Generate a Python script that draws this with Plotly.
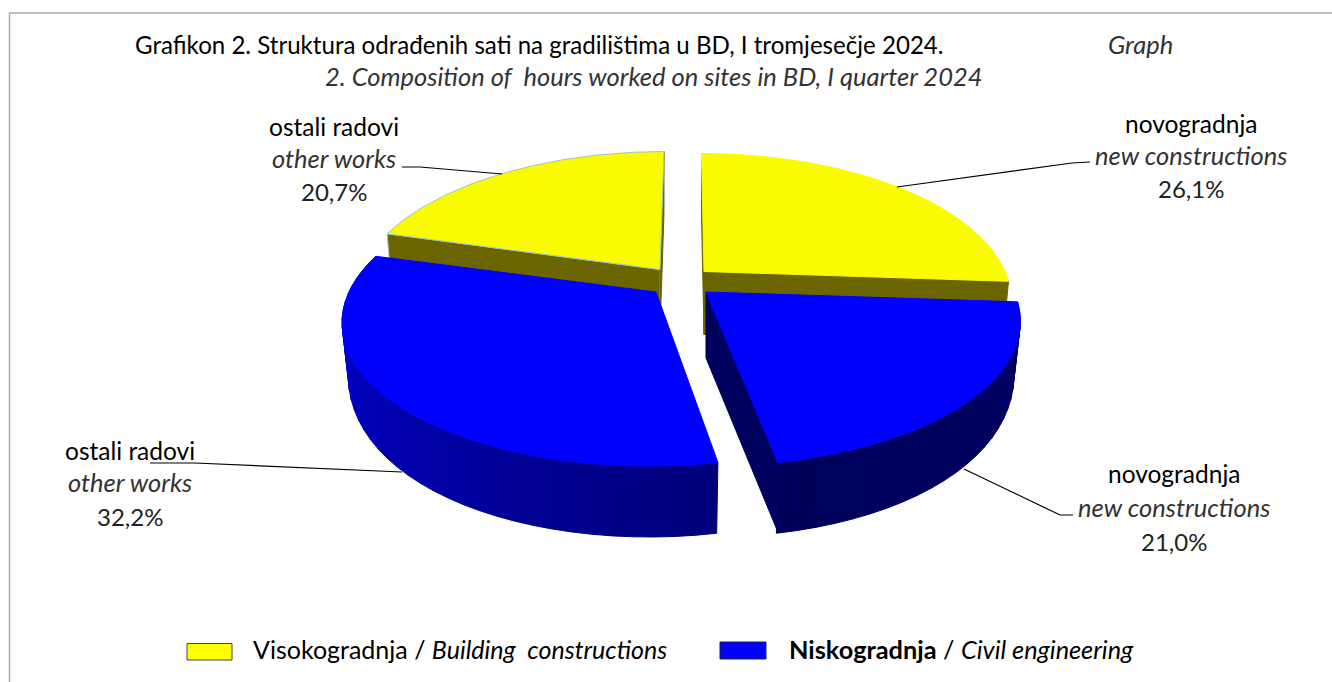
import numpy as np
import plotly.graph_objects as go

# ---- data ----
slice_names = ["novogradnja", "novogradnja", "ostali radovi", "ostali radovi"]
slice_names_en = ["new constructions", "new constructions", "other works", "other works"]
slice_values = [26.1, 21.0, 32.2, 20.7]
slice_labels = ["26,1%", "21,0%", "32,2%", "20,7%"]
title_main = "Grafikon 2. Struktura odrađenih sati na gradilištima u BD, I tromjesečje 2024."
title_tag = "Graph"
title_sub = "2. Composition of\u00a0\u00a0hours worked on sites in BD, I quarter 2024"
legend_a = "Visokogradnja / <i>Building\u00a0\u00a0constructions</i>"
legend_b = "<b>Niskogradnja</b> / <i>Civil engineering</i>"

# ---- styling / projection ----
FONT = "Lato"
YEL, YEL_DARK = "#fbfb00", "#6b6500"
BLUE, BLUE_DARK = "#0000ff", "#00005e"
PER, RY = 0.192, 140.6
# centre x, centre y, radius, lean for each slice
GEOM = [(704, 271.5, 301, 3.0), (706, 292, 308, 2.5), (656, 292, 307, -5.5), (660, 269.5, 299, -4.8)]

cum = np.cumsum([0] + slice_values) / sum(slice_values) * 360.0


def project(t_deg, g):
    cx, cy, R, L = g
    t = np.radians(t_deg)
    u, v = np.sin(t), -np.cos(t)
    s = 1 / (1 - PER * v)
    return cx + R * u * s + L * v * s, cy + RY * v * s, v


def drop(x, y, v, g):
    d = 45 + 40 * v - 14 * v * v
    return g[0] + (np.asarray(x) - g[0]) * 0.98, y + d


fig = go.Figure()


def poly(xs, ys, fill, line=None, w=1):
    fig.add_trace(go.Scatter(
        x=list(xs), y=list(ys), mode="lines", fill="toself", fillcolor=fill,
        line=dict(color=line or fill, width=w), hoverinfo="skip", showlegend=False))


def top(i, fill, line=None):
    g = GEOM[i]
    x, y, _ = project(np.linspace(cum[i], cum[i + 1], 60), g)
    poly(np.r_[g[0], x, g[0]], np.r_[g[1], y, g[1]], fill, line)


def cut(i, t, fill, depth, line=None):
    g = GEOM[i]
    x, y, _ = project(t, g)
    xb = g[0] + (x - g[0]) * 0.98
    poly([g[0], x, xb, g[0], g[0]], [g[1], y, y + depth, g[1] + depth, g[1]], fill, line)


def wall(i, c_start, c_end, n):
    g = GEOM[i]
    edges = np.linspace(cum[i], cum[i + 1], n + 1)
    for k in range(n):
        ts = np.linspace(edges[k], edges[k + 1], 6)
        x, y, v = project(ts, g)
        xb, yb = drop(x, y, v, g)
        f = k / max(n - 1, 1)
        col = [round(a + (b - a) * f) for a, b in zip(c_start, c_end)]
        c = f"rgb({col[0]},{col[1]},{col[2]})"
        poly(np.r_[x, xb[::-1], x[0]], np.r_[y, yb[::-1], y[0]], c)


# back slices first, so the front ones hide them
PALE = "#9cc7c4"
cut(3, cum[3], YEL_DARK, 63, PALE)
cut(3, cum[4], YEL_DARK, 63)
top(3, YEL, PALE)
cut(0, cum[0], YEL_DARK, 63)
cut(0, cum[1], YEL_DARK, 63)
top(0, YEL)
# front right
wall(1, (0, 0, 100), (0, 0, 92), 24)
cut(1, cum[2], BLUE_DARK, 66)
top(1, BLUE)
# front left
wall(2, (0, 0, 124), (0, 0, 222), 36)
top(2, BLUE)

grey = "#a9a9a9"
shapes = [
    dict(type="path", path="M 1332 13 L 9.5 13 L 9.5 682", line=dict(color=grey, width=1.5)),
    dict(type="rect", x0=187, y0=643.5, x1=232, y1=660, fillcolor="#ffff00", line=dict(color="#444", width=1)),
    dict(type="rect", x0=720, y0=642, x1=766, y1=659, fillcolor="#0000ff", line=dict(color="#223", width=1)),
]
leaders = [
    "M 1090 162 L 1072 163 L 897 187",
    "M 964 469 L 1060 515 L 1073 515",
    "M 150 463 L 195 463 L 402 472",
    "M 402 167 L 420 167 L 502 174",
]
for p in leaders:
    shapes.append(dict(type="path", path=p, line=dict(color="black", width=1.2)))

anns = []


def txt(x, y, text, size, anchor="center", color="black"):
    anns.append(dict(x=x, y=y, text=text, showarrow=False, xanchor=anchor, yanchor="middle",
                     font=dict(family=FONT, size=size, color=color)))


IT = "#333333"
txt(539, 44, title_main, 24.1)
txt(1140, 44, f"<i>{title_tag}</i>", 25.5, color=IT)
txt(654, 76, f"<i>{title_sub}</i>", 25.5, color=IT)
# label positions by slice
POS = [(1191, 123, 155, 188), (1174, 473, 507, 541), (130, 450, 482, 516), (334, 126, 158, 191)]
for (xc, y1, y2, y3), a, b, c in zip(POS, slice_names, slice_names_en, slice_labels):
    txt(xc, y1, a, 24.5)
    txt(xc, y2, f"<i>{b}</i>", 25.5, color=IT)
    txt(xc, y3, c, 24, color="#222222")
txt(250.5, 649, legend_a, 25, "left")
txt(786.5, 649, legend_b, 25.3, "left")

fig.update_layout(
    width=1332, height=682, margin=dict(l=0, r=0, t=0, b=0),
    paper_bgcolor="white", plot_bgcolor="white", showlegend=False,
    shapes=shapes, annotations=anns,
    xaxis=dict(range=[0, 1332], visible=False, fixedrange=True),
    yaxis=dict(range=[682, 0], visible=False, fixedrange=True),
)
fig.write_html("out.html", config={"displayModeBar": False},
               post_script="document.body.style.margin='0';document.body.style.overflow='hidden';")
